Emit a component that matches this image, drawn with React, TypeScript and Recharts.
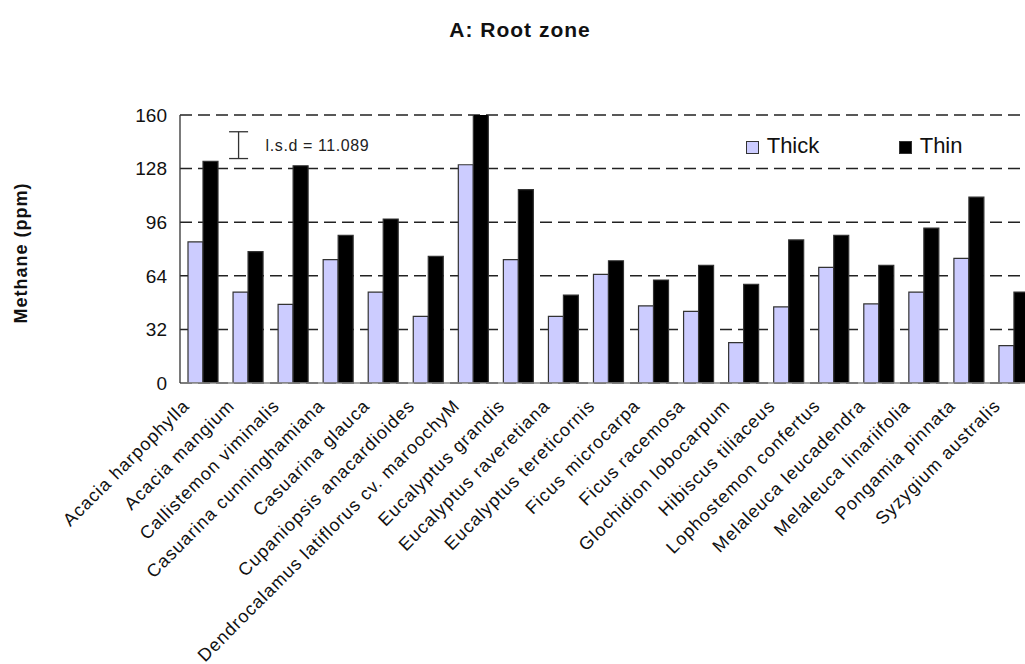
import React from 'react';
import {
  BarChart,
  Bar,
  XAxis,
  YAxis,
  CartesianGrid,
  Legend,
  ReferenceLine,
  Label,
} from 'recharts';

const categories = [
  'Acacia harpophylla',
  'Acacia mangium',
  'Callistemon viminalis',
  'Casuarina cunninghamiana',
  'Casuarina glauca',
  'Cupaniopsis anacardioides',
  'Dendrocalamus latiflorus cv. maroochyM',
  'Eucalyptus grandis',
  'Eucalyptus raveretiana',
  'Eucalyptus tereticornis',
  'Ficus microcarpa',
  'Ficus racemosa',
  'Glochidion lobocarpum',
  'Hibiscus tiliaceus',
  'Lophostemon confertus',
  'Melaleuca leucadendra',
  'Melaleuca linariifolia',
  'Pongamia pinnata',
  'Syzygium australis',
];

const thickValues = [84.2, 54.3, 46.9, 73.6, 54.3, 39.8, 130.3, 73.6, 39.8, 64.8, 46.1, 42.8, 24.1, 45.4, 69.0, 47.2, 54.3, 74.4, 22.3];
const thinValues = [132.3, 78.4, 129.7, 88.1, 97.9, 75.6, 161.6, 115.4, 52.5, 73.0, 61.5, 70.2, 58.9, 85.4, 88.1, 70.2, 92.5, 111.0, 54.3];

const yTicks = [0, 32, 64, 96, 128, 160];

const lsdValue = 11.089;
const lsdCategory = 'Acacia mangium';
const lsdLow = 134;
const lsdHigh = 150;

const data = categories.map((name, i) => ({
  name,
  Thick: thickValues[i],
  Thin: thinValues[i],
}));

const FONT = '"Liberation Sans", Arial, sans-serif';

const XTick = (props: any) => {
  const { x, y, payload } = props;
  return (
    <g transform={`translate(${x - 12},${y + 16})`}>
      <text
        textAnchor="end"
        transform="rotate(-45)"
        fontSize={18}
        letterSpacing={1}
        fill="#111"
        fontFamily={FONT}
      >
        {payload.value}
      </text>
    </g>
  );
};

const LsdShape = (props: any) => {
  const { x1, y1, y2 } = props;
  const x = x1 - 9;
  const top = Math.min(y1, y2);
  const bottom = Math.max(y1, y2);
  return (
    <g>
      <line x1={x} x2={x} y1={top} y2={bottom} stroke="#333" strokeWidth={1.3} />
      <line x1={x - 9.5} x2={x + 9.5} y1={top} y2={top} stroke="#333" strokeWidth={1.3} />
      <line x1={x - 9.5} x2={x + 9.5} y1={bottom} y2={bottom} stroke="#333" strokeWidth={1.3} />
      <text
        x={x + 27}
        y={(top + bottom) / 2 + 6}
        fontSize={16}
        letterSpacing={0.6}
        fill="#222"
        fontFamily={FONT}
      >
        {`l.s.d = ${lsdValue}`}
      </text>
    </g>
  );
};

const LegendContent = (props: any) => {
  const { payload } = props;
  return (
    <div style={{ display: 'flex', fontFamily: FONT }}>
      {(payload || []).map((entry: any) => (
        <div key={entry.value} style={{ display: 'flex', alignItems: 'flex-start', width: 153 }}>
          <span
            style={{
              display: 'inline-block',
              width: 13,
              height: 13,
              boxSizing: 'border-box',
              marginTop: 6,
              background: entry.color,
              border: '1px solid #333',
            }}
          />
          <span style={{ marginLeft: 8, fontSize: 22, lineHeight: '22px', color: '#111' }}>{entry.value}</span>
        </div>
      ))}
    </div>
  );
};

const YLabel = (props: any) => {
  const { viewBox } = props;
  const cx = viewBox.x + 27;
  const cy = viewBox.y + viewBox.height / 2 + 4;
  return (
    <text
      x={cx}
      y={cy}
      transform={`rotate(-90, ${cx}, ${cy})`}
      textAnchor="middle"
      fontSize={18}
      fontWeight="bold"
      letterSpacing={1}
      fill="#111"
      fontFamily={FONT}
    >
      Methane (ppm)
    </text>
  );
};

export default function App() {
  return (
    <div
      style={{
        position: 'fixed',
        left: 0,
        top: 0,
        width: 1025,
        height: 664,
        overflow: 'hidden',
        background: '#fff',
        fontFamily: FONT,
      }}
    >
      <div
        style={{
          position: 'absolute',
          left: 0,
          top: 19,
          width: 1040,
          textAlign: 'center',
          fontSize: 21,
          lineHeight: '21px',
          fontWeight: 'bold',
          letterSpacing: 1,
          color: '#111',
          fontFamily: FONT,
        }}
      >
        A: Root zone
      </div>
      <BarChart
        width={1036}
        height={700}
        data={data}
        margin={{ top: 115, right: 0, bottom: 0, left: 0 }}
        barCategoryGap={8}
        barGap={0}
      >
        <CartesianGrid vertical={false} stroke="#222" strokeWidth={1.5} strokeDasharray="12 6" />
        <XAxis
          dataKey="name"
          interval={0}
          height={317}
          tickLine={false}
          axisLine={{ stroke: '#888', strokeWidth: 1.5 }}
          tick={<XTick />}
        />
        <YAxis
          width={180}
          domain={[0, 160]}
          allowDataOverflow
          ticks={yTicks}
          tickLine={false}
          tickMargin={7}
          axisLine={{ stroke: '#333', strokeWidth: 1.3 }}
          tick={{ fontSize: 19, fill: '#111', fontFamily: FONT }}
        >
          <Label content={<YLabel />} />
        </YAxis>
        <Legend
          layout="horizontal"
          verticalAlign="middle"
          align="center"
          content={<LegendContent />}
          wrapperStyle={{ left: 745.7, top: 134.7, width: 'auto' }}
        />
        <Bar dataKey="Thick" fill="#CCCCFF" stroke="#333" strokeWidth={1.2} isAnimationActive={false} />
        <Bar dataKey="Thin" fill="#000000" stroke="#333" strokeWidth={1.2} isAnimationActive={false} />
        <ReferenceLine
          segment={[
            { x: lsdCategory, y: lsdLow },
            { x: lsdCategory, y: lsdHigh },
          ]}
          shape={<LsdShape />}
          ifOverflow="visible"
        />
      </BarChart>
    </div>
  );
}
